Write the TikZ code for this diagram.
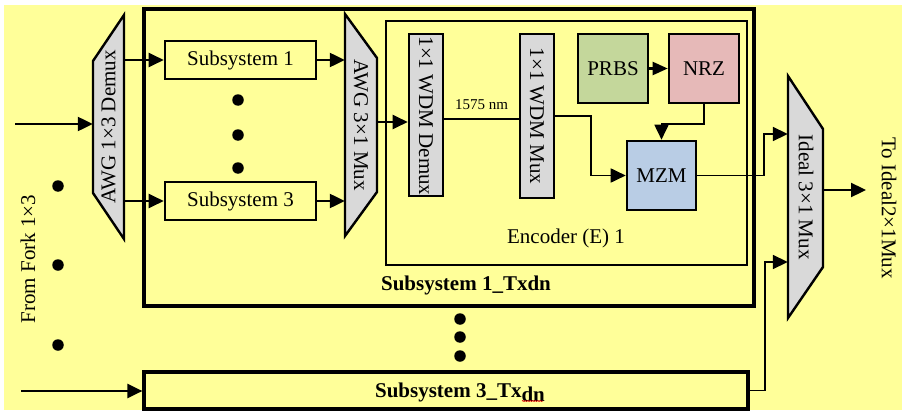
\documentclass[tikz,border=0pt]{standalone}
\usepackage{fontspec}
\setmainfont{Liberation Serif}
\usetikzlibrary{arrows.meta,calc,decorations.pathmorphing}
\definecolor{bgyellow}{RGB}{255,255,153}
\definecolor{boxgray}{RGB}{217,217,217}
\definecolor{prbsgreen}{RGB}{196,215,155}
\definecolor{nrzpink}{RGB}{230,185,184}
\definecolor{mzmblue}{RGB}{185,205,229}
\begin{document}
\begin{tikzpicture}[x=1pt,y=-1pt,
  lbl/.style={font=\fontsize{21}{24}\selectfont, inner sep=0pt},
  small/.style={font=\fontsize{15}{18}\selectfont, inner sep=0pt},
  bold/.style={font=\fontsize{21}{24}\selectfont\bfseries, inner sep=0pt},
  blk/.style={draw, line width=2.6pt, inner sep=0pt, font=\fontsize{21}{24}\selectfont},
  frame/.style={draw, line width=3.2pt, inner sep=0pt},
  ghost/.style={inner sep=0pt},
  trap/.style={draw, line width=2.4pt, fill=boxgray, line join=miter},
  sig/.style={line width=2.3pt, -{Triangle[length=15pt,width=14pt]}},
  thinline/.style={line width=1.8pt},
  thinarr/.style={line width=1.8pt, -{Triangle[length=15pt,width=14pt]}},
  dotmark/.style={circle, fill=black, inner sep=0pt, minimum size=11.5pt},
]
\useasboundingbox (0,0) rectangle (902,412);
\fill[white] (0,0) rectangle (902,412);
\fill[bgyellow] (4,5) rectangle (902,410);

% frames
\node[frame, minimum width=610pt, minimum height=297pt] (tx1) at (449,157.5) {};
\node[draw, line width=2.6pt, minimum width=361pt, minimum height=244pt] (enc) at (566.5,143) {};
\node[frame, minimum width=604pt, minimum height=37pt] (tx3) at (446,390.5) {};

% trapezoids
\draw[trap] (93,61) -- (124,15) -- (124,239) -- (93,193) -- cycle;
\node[ghost, minimum width=31pt, minimum height=224pt] (demux) at (108.5,127) {};
\draw[trap] (345,14) -- (377,58) -- (377,192) -- (345,236) -- cycle;
\node[ghost, minimum width=32pt, minimum height=222pt] (awgmux) at (361,125) {};
\draw[trap] (788,76) -- (823,129) -- (823,267) -- (788,318) -- cycle;
\node[ghost, minimum width=35pt, minimum height=242pt] (ideal) at (805.5,197) {};

% blocks
\node[blk, minimum width=151pt, minimum height=38pt] (sub1) at (240.5,60) {Subsystem 1};
\node[blk, minimum width=151pt, minimum height=38pt] (sub3) at (240.5,201) {Subsystem 3};
\node[blk, fill=boxgray, minimum width=34pt, minimum height=162pt] (wdmd) at (426,115) {};
\node[blk, fill=boxgray, minimum width=34pt, minimum height=164pt] (wdmm) at (537,116) {};
\node[blk, fill=prbsgreen, minimum width=70pt, minimum height=69pt] (prbs) at (613,68.5) {PRBS};
\node[blk, fill=nrzpink, minimum width=70pt, minimum height=69pt] (nrz) at (704,68.5) {NRZ};
\node[blk, fill=mzmblue, minimum width=69pt, minimum height=69pt] (mzm) at (661.5,175.5) {MZM};

% rotated labels
\node[lbl, rotate=90] (ldemux) at (108.5,127) {AWG 1×3 Demux};
\node[lbl, rotate=-90] (lawg) at (361,125) {AWG 3×1 Mux};
\node[lbl, rotate=-90] (lwdmd) at (426,116) {1×1 WDM Demux};
\node[lbl, rotate=-90] (lwdmm) at (537,116) {1×1 WDM Mux};
\node[lbl, rotate=-90] (lideal) at (806,197) {Ideal 3×1 Mux};
\node[lbl, rotate=-90] (lto) at (889,208) {To Ideal2×1Mux};
\node[lbl, rotate=90] (lfrom) at (28,259) {From Fork 1×3};

% other labels
\node[lbl] (lenc) at (566,238) {Encoder (E) 1};
\node[bold] (ltx1) at (466,285) {Subsystem 1\_Txdn};
\node[bold, anchor=base] (ltx3) at (460,397) {Subsystem 3\_Tx\raisebox{-4pt}{dn}};
\draw[red!85!black, line width=0.7pt, decorate, decoration={snake, amplitude=0.5pt, segment length=2.5pt}] (522,401) -- (543,401);

% dots
\foreach \i/\y in {1/186,2/265,3/345} \node[dotmark] (ld\i) at (58,\y) {};
\foreach \i/\y in {1/100,2/135,3/168} \node[dotmark] (md\i) at (238,\y) {};
\foreach \i/\y in {1/319,2/337,3/356} \node[dotmark] (bd\i) at (460,\y) {};

% connectors
\coordinate (in1) at (15,124);
\draw[sig] (in1) -- (in1 -| demux.west);
\coordinate (in3) at (21,391);
\draw[sig] (in3) -- (in3 -| tx3.west);
\draw[sig] (demux.east |- sub1.west) -- (sub1.west);
\draw[sig] (demux.east |- sub3.west) -- (sub3.west);
\draw[sig] (sub1.east) -- (sub1.east -| awgmux.west);
\draw[sig] (sub3.east) -- (sub3.east -| awgmux.west);
\coordinate (wdin) at ($(wdmd.west)+(0,7)$);
\draw[sig] (wdin -| awgmux.east) -- (wdin);
\coordinate (wdout) at ($(wdmd.east)+(0,4)$);
\draw[thinline] (wdout) -- (wdout -| wdmm.west)
  node[small, midway, above=8pt] (l1575) {1575 nm};
\draw[thinarr] (wdmm.east) -- ++(36,0) |- (mzm.west);
\draw[line width=2.2pt, -{Triangle[length=15pt,width=13pt]}] (prbs) -- (nrz);
\draw[thinarr] (nrz.south) -- ++(0,20) -| (mzm.north);
\draw[thinarr] (mzm.east) -- ++(67,0) |- ($(ideal.west)+(0,-63)$);
\draw[thinarr] (tx3.east) -- ++(15,0) |- ($(ideal.west)+(0,65)$);
\coordinate (out) at (866,190);
\draw[sig] (ideal.east |- out) -- (out);
\end{tikzpicture}
\end{document}
